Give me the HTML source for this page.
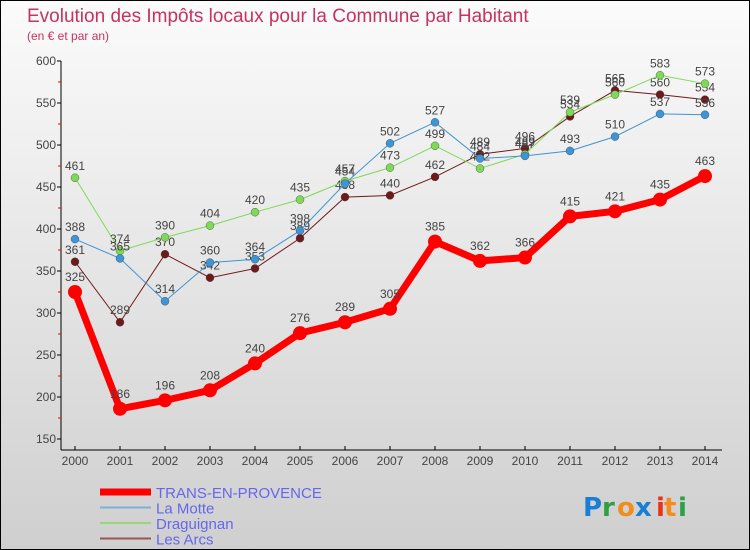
<!DOCTYPE html>
<html><head><meta charset="utf-8"><style>
body{margin:0;width:750px;height:550px;overflow:hidden;font-family:"Liberation Sans",sans-serif}
svg{display:block}
</style></head><body>
<svg id="chart" width="750" height="550" xmlns="http://www.w3.org/2000/svg">
<defs><linearGradient id="bg" x1="0" y1="0" x2="0" y2="1"><stop offset="0" stop-color="#fbfbfb"/><stop offset="1" stop-color="#cfcfcf"/></linearGradient></defs>
<rect x="0.5" y="0.5" width="749" height="549" fill="url(#bg)" stroke="#000"/>
<text x="27" y="22" font-size="19" fill="#c8325f">Evolution des Impôts locaux pour la Commune par Habitant</text>
<text x="27" y="40" font-size="12" fill="#c8325f">(en € et par an)</text>
<g id="axes"></g><g id="series"></g><g id="legend"></g>
<g font-size="26" font-family="'DejaVu Sans',sans-serif" font-weight="bold">
<text x="583" y="516" fill="#1a7fd4">P</text><text x="602" y="516" fill="#2ea043">r</text><text x="617" y="516" fill="#f28c1c">o</text><text x="635" y="516" fill="#1a7fd4">x</text><text x="656" y="516" fill="#e8321e">i</text><text x="664" y="516" fill="#f28c1c">t</text><text x="678" y="516" fill="#2ea043">i</text>
</g>
</svg>
<script>
const years=["2000","2001","2002","2003","2004","2005","2006","2007","2008","2009","2010","2011","2012","2013","2014"];
const trans=[325,186,196,208,240,276,289,305,385,362,366,415,421,435,463];
const laMotte=[388,365,314,360,364,398,454,502,527,484,487,493,510,537,536];
const draguignan=[461,374,390,404,420,435,457,473,499,472,489,539,560,583,573];
const lesArcs=[361,289,370,342,353,389,438,440,462,489,496,534,565,560,554];
const yTicks=[150,200,250,300,350,400,450,500,550,600];
const NS="http://www.w3.org/2000/svg";
const X=i=>75+i*45, Y=v=>61+(600-v)*0.84;
function mk(tag,attrs,parent,txt){const e=document.createElementNS(NS,tag);for(const k in attrs)e.setAttribute(k,attrs[k]);if(txt!==undefined)e.textContent=txt;parent.appendChild(e);return e;}
const ax=document.getElementById('axes');
let l=mk('line',{x1:61,y1:Y(600),x2:61,y2:450,stroke:'#000'},ax);


l=mk('line',{x1:61,y1:450,x2:722,y2:450,stroke:'#000'},ax);


yTicks.forEach(v=>{
 mk('line',{x1:57,y1:Y(v),x2:61,y2:Y(v),stroke:'#000'},ax);
 if(v<600) mk('line',{x1:58,y1:Y(v+25),x2:61,y2:Y(v+25),stroke:'#f00'},ax);
 const t=mk('text',{x:56,y:Y(v)+4,'text-anchor':'end','font-size':12,fill:'#444'},ax,v);
 
 
});
years.forEach((y,i)=>{
 mk('line',{x1:X(i),y1:446,x2:X(i),y2:450,stroke:'#000'},ax);
 const t=mk('text',{x:X(i),y:465,'text-anchor':'middle','font-size':12,fill:'#444'},ax,y);
 
 
});
const sg=document.getElementById('series');
const series=[
 {name:'les-arcs',data:lesArcs,c:'#6e1a1a',w:1,r:4},
 {name:'draguignan',data:draguignan,c:'#7ed957',w:1,r:4},
 {name:'la-motte',data:laMotte,c:'#3d94d6',w:1,r:4},
 {name:'trans-en-provence',data:trans,c:'#f00',w:7,r:7}
];
series.forEach(s=>{
 const g=mk('g',{},sg);
 
 
 const p=mk('polyline',{points:s.data.map((v,i)=>X(i)+','+Y(v)).join(' '),fill:'none',stroke:s.c,'stroke-width':s.w},g);
 
 
 s.data.forEach((v,i)=>{
  const c=mk('circle',{cx:X(i),cy:Y(v),r:s.r,fill:s.c,stroke:s.w>1?'none':'#444','stroke-width':0.4},g);
  
  
  const t=mk('text',{x:X(i),y:Y(v)-(s.w>1?11:8),'text-anchor':'middle','font-size':12,fill:'#444'},g,v);
  
  
 });
});
const lg=document.getElementById('legend');
const leg=[['TRANS-EN-PROVENCE','#f00',7],['La Motte','#7fb0d8',2],['Draguignan','#98d67c',2],['Les Arcs','#9a5555',2]];
leg.forEach((e,i)=>{
 const y=492+i*15.5;
 const g=mk('g',{},lg);
 
 
 mk('line',{x1:100,y1:y,x2:151,y2:y,stroke:e[1],'stroke-width':e[2]},g);
 mk('text',{x:156,y:y+6,'font-size':15,fill:'#6666ee'},g,e[0]);
});
</script>
</body></html>
